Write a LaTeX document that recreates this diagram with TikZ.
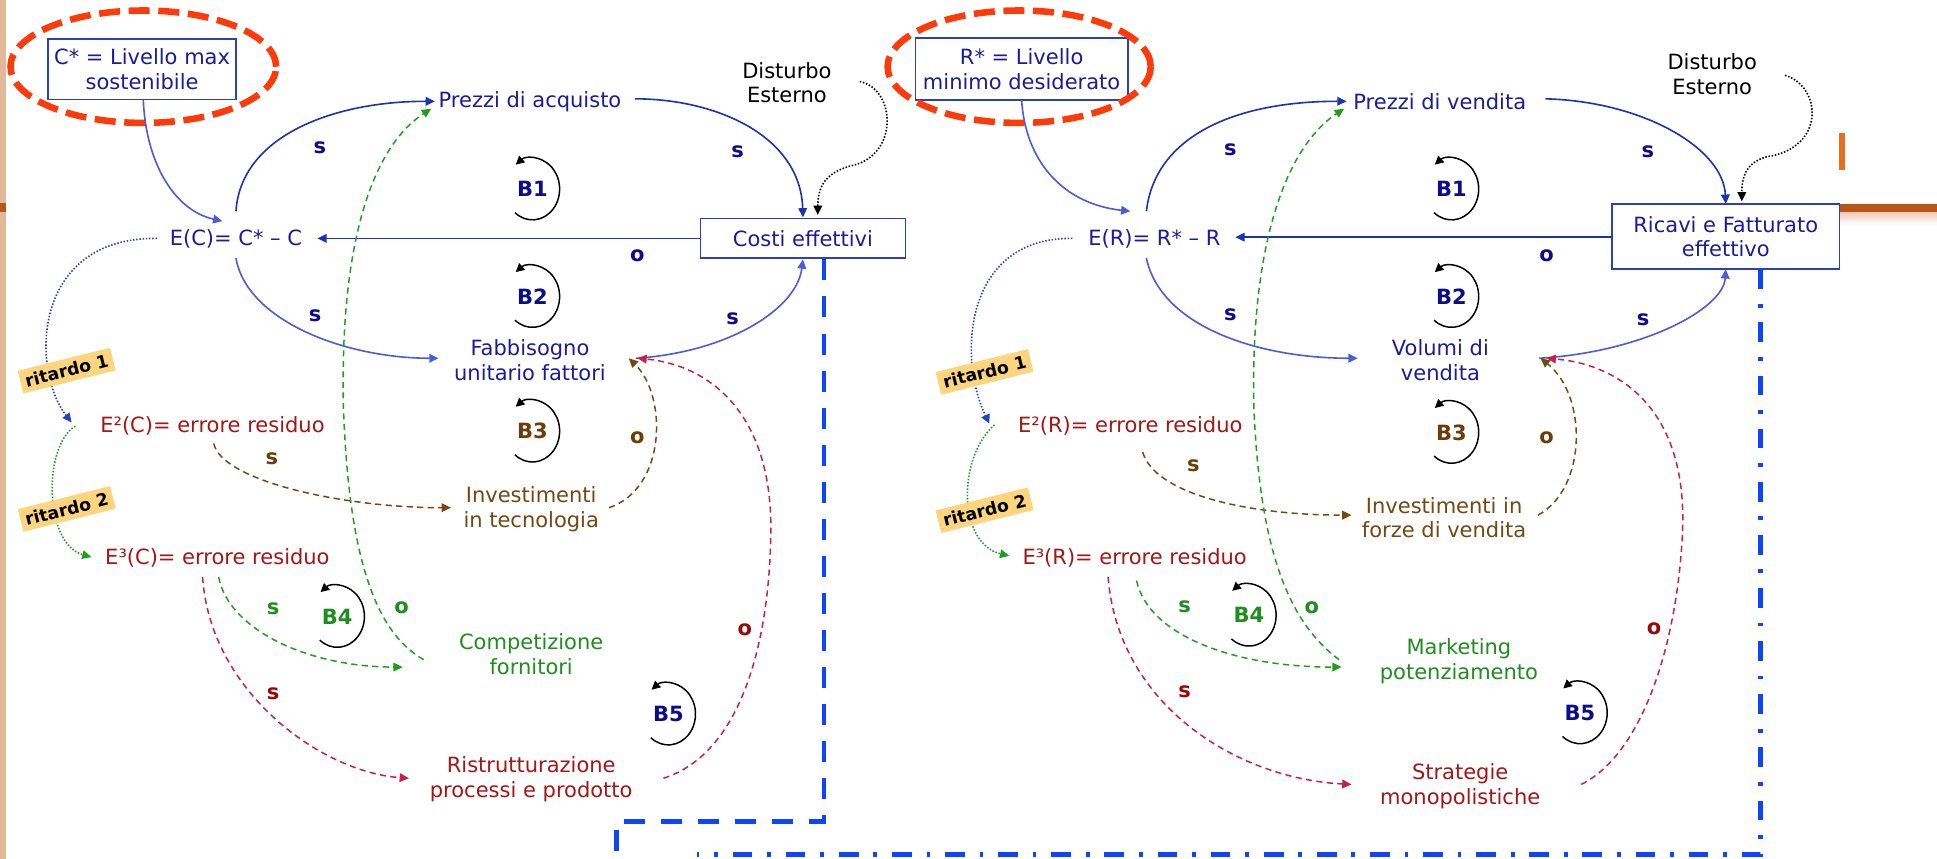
\documentclass[tikz,border=0pt]{standalone}
\usepackage{fontspec}
\setmainfont{DejaVu Sans}
\usetikzlibrary{arrows.meta,shapes.geometric}

\definecolor{navytext}{HTML}{1C1C9A}
\definecolor{navybold}{HTML}{0C0C8C}
\definecolor{boxblue}{HTML}{2D3FC0}
\definecolor{darkarrow}{HTML}{1A32B4}
\definecolor{lightarrow}{HTML}{4C5CD8}
\definecolor{dotblue}{HTML}{2244C4}
\definecolor{errred}{HTML}{A51616}
\definecolor{signred}{HTML}{9A0808}
\definecolor{linkred}{HTML}{C82040}
\definecolor{brownish}{HTML}{754812}
\definecolor{signbrown}{HTML}{6B3D0A}
\definecolor{greenish}{HTML}{1E8E1E}
\definecolor{linkgreen}{HTML}{1E9E1E}
\definecolor{ringred}{HTML}{FF3A0A}
\definecolor{limitblue}{HTML}{0E44FF}
\definecolor{lagfill}{HTML}{FCD57E}
\definecolor{tanstrip}{HTML}{E3B898}
\definecolor{rust}{HTML}{B8561A}
\definecolor{rustlight}{HTML}{EDCDB8}
\definecolor{orangemark}{HTML}{E8701C}

\tikzset{
  txt/.style={font=\fontsize{17}{20}\selectfont, align=center, inner sep=0pt},
  varbox/.style={txt, draw=boxblue, line width=1.3pt},
  ring/.style={ellipse, draw=ringred, line width=5.3pt, dash pattern=on 17pt off 7pt, inner sep=0pt},
  sign/.style={font=\bfseries\fontsize{17}{17}\selectfont, inner sep=0pt},
  loopid/.style={font=\bfseries\fontsize{17}{17}\selectfont, inner sep=0pt},
  lag/.style={fill=lagfill, font=\bfseries\fontsize{14}{14}\selectfont, rotate=14, inner xsep=4pt, inner ysep=4pt},
  tip/.style={-{Triangle[length=7.5pt,width=7pt]}},
  solidlink/.style={tip, line width=1.3pt},
  dashlink/.style={tip, line width=1.2pt, dash pattern=on 5pt off 3.5pt},
  dotlink/.style={tip, line width=1.3pt, dash pattern=on 1.2pt off 1.4pt},
  limitdash/.style={limitblue, line width=4pt, dash pattern=on 17pt off 13pt},
  limitdashdot/.style={limitblue, line width=4pt, dash pattern=on 16pt off 12pt on 3pt off 12pt},
  fbloop/.pic={\draw[line width=1.2pt, -{Triangle[length=7pt,width=7pt]}] (130:22 and 25) arc[start angle=130, end angle=-128, x radius=22, y radius=25];}
}

\begin{document}
\begin{tikzpicture}[x=1pt,y=-1pt]
\useasboundingbox (0,0) rectangle (1568,695);
\fill[white] (0,0) rectangle (1568,695);

% slide border and rule
\fill[tanstrip] (0,0) rectangle (4.5,695);
\fill[rust] (0,164) rectangle (4.5,172);
\fill[rust] (1489,165) rectangle (1568,172);
\shade[top color=rustlight, bottom color=white] (1489,172) rectangle (1568,182);
\fill[orangemark] (1489,108) rectangle (1493.5,138);

% ---------------- cost side ----------------
\node[varbox, minimum width=152pt, minimum height=49pt, text=navytext] (cstar) at (115,56) {C* = Livello max\\sostenibile};
\node[ring, minimum width=215pt, minimum height=91pt] (ringC) at (116,54) {};
\node[txt, text=navytext] (ec) at (191,193) {E(C)= C* – C};
\node[txt, text=navytext] (prezziA) at (429,82) {Prezzi di acquisto};
\node[txt] (dist1) at (637,67) {Disturbo\\Esterno};
\node[varbox, minimum width=166pt, minimum height=32pt, text=navytext] (costi) at (650,193) {Costi effettivi};
\node[txt, text=navytext] (fabb) at (429,291.5) {Fabbisogno\\unitario fattori};
\node[txt, text=errred] (e2c) at (172,345) {E²(C)= errore residuo};
\node[txt, text=errred] (e3c) at (176,452) {E³(C)= errore residuo};
\node[txt, text=brownish] (invT) at (430,412) {Investimenti\\in tecnologia};
\node[txt, text=greenish] (comp) at (430,529.5) {Competizione\\fornitori};
\node[txt, text=errred] (ristr) at (430,631) {Ristrutturazione\\processi e prodotto};

\draw[solidlink, lightarrow] ([shift={(1,25)}]cstar.center) .. controls (118,130) and (140,170) .. ([shift={(-11,-14)}]ec.center);
\draw[solidlink, darkarrow] ([shift={(0,-22)}]ec.center) .. controls (195,110) and (270,82) .. ([shift={(-77,0)}]prezziA.center);
\draw[solidlink, darkarrow] ([shift={(85,-2)}]prezziA.center) .. controls (580,80) and (648,110) .. ([shift={(0,-17)}]costi.center);
\draw[dotlink, black] ([shift={(59,-1)}]dist1.center) .. controls (725,72) and (728,125) .. (690,134) .. controls (665,140) and (662,155) .. ([shift={(12,-19)}]costi.center);
\draw[solidlink, darkarrow] ([shift={(-83,0)}]costi.center) -- ([shift={(66,0)}]ec.center);
\draw[solidlink, lightarrow] ([shift={(0,16)}]ec.center) .. controls (200,260) and (280,290) .. ([shift={(-74,-1.5)}]fabb.center);
\draw[solidlink, lightarrow] ([shift={(86,-1.5)}]fabb.center) .. controls (590,285) and (645,250) .. ([shift={(0,17)}]costi.center);
\draw[dashlink, brownish] ([shift={(63,-1)}]invT.center) .. controls (540,395) and (540,320) .. ([shift={(80,-1.5)}]fabb.center);
\draw[dashlink, linkred] ([shift={(107,-1)}]ristr.center) .. controls (600,610) and (623,520) .. (624,430) .. controls (625,330) and (570,295) .. ([shift={(87,-1.5)}]fabb.center);
\draw[dashlink, brownish] ([shift={(1,14)}]e2c.center) .. controls (180,390) and (280,411) .. ([shift={(-65,-1)}]invT.center);
\draw[dotlink, dotblue] ([shift={(-64,0)}]ec.center) .. controls (25,192) and (25,300) .. ([shift={(-114,-3)}]e2c.center);
\draw[dotlink, linkgreen] ([shift={(-111,0)}]e2c.center) .. controls (35,360) and (35,440) .. ([shift={(-102,-1)}]e3c.center);
\draw[dashlink, linkgreen] ([shift={(1,15)}]e3c.center) .. controls (185,510) and (250,540) .. ([shift={(-104,10.5)}]comp.center);
\draw[dashlink, linkgreen] ([shift={(-87,4.5)}]comp.center) .. controls (300,510) and (282,440) .. (278,330) .. controls (275,200) and (300,120) .. ([shift={(-80,6)}]prezziA.center);
\draw[dashlink, linkred] ([shift={(-12,15)}]e3c.center) .. controls (170,560) and (260,625) .. ([shift={(-99,-1)}]ristr.center);

\node[lag] (lagC1) at (54,300) {ritardo 1};
\node[lag] (lagC2) at (54,412) {ritardo 2};

\node[sign, text=navybold] (sgC1) at (259,120) {s};
\node[sign, text=navybold] (sgC2) at (597,123) {s};
\node[sign, text=navybold] (sgC3) at (516,207) {o};
\node[sign, text=navybold] (sgC4) at (255,256) {s};
\node[sign, text=navybold] (sgC5) at (593,258) {s};
\node[sign, text=signbrown] (sgC6) at (220,371) {s};
\node[sign, text=signbrown] (sgC7) at (516,354) {o};
\node[sign, text=greenish] (sgC8) at (221,493) {s};
\node[sign, text=greenish] (sgC9) at (325,492) {o};
\node[sign, text=signred] (sgC10) at (221,562) {s};
\node[sign, text=signred] (sgC11) at (603,510) {o};

\node[loopid, text=navybold] (bC1) at (431,153) {B1};
\node[loopid, text=navybold] (bC2) at (431,240) {B2};
\node[loopid, text=signbrown] (bC3) at (431,349) {B3};
\node[loopid, text=greenish] (bC4) at (273,499) {B4};
\node[loopid, text=navybold] (bC5) at (541,578) {B5};
\foreach \b in {bC1,bC2,bC3,bC4,bC5} \pic at (\b) {fbloop};

% ---------------- revenue side ----------------
\node[varbox, minimum width=172pt, minimum height=50pt, text=navytext] (rstar) at (827,56) {R* = Livello\\minimo desiderato};
\node[ring, minimum width=213pt, minimum height=91pt] (ringR) at (825,54) {};
\node[txt, text=navytext] (er) at (934.5,193) {E(R)= R* – R};
\node[txt, text=navytext] (prezziV) at (1165.5,82) {Prezzi di vendita};
\node[txt] (dist2) at (1386,60) {Disturbo\\Esterno};
\node[varbox, minimum width=184pt, minimum height=53pt, text=navytext] (ricavi) at (1397,191.5) {Ricavi e Fatturato\\effettivo};
\node[txt, text=navytext] (volumi) at (1166,291.5) {Volumi di\\vendita};
\node[txt, text=errred] (e2r) at (915,345) {E²(R)= errore residuo};
\node[txt, text=errred] (e3r) at (918.5,452) {E³(R)= errore residuo};
\node[txt, text=brownish] (invF) at (1169,419) {Investimenti in\\forze di vendita};
\node[txt, text=greenish] (mark) at (1181,535) {Marketing\\potenziamento};
\node[txt, text=errred] (strat) at (1182,636.5) {Strategie\\monopolistiche};

\draw[solidlink, lightarrow] ([shift={(0,25)}]rstar.center) .. controls (830,130) and (860,165) .. ([shift={(-19.5,-22)}]er.center);
\draw[solidlink, darkarrow] ([shift={(-6.5,-22)}]er.center) .. controls (935,110) and (1000,82) .. ([shift={(-75.5,0)}]prezziV.center);
\draw[solidlink, darkarrow] ([shift={(85.5,-2)}]prezziV.center) .. controls (1330,82) and (1395,120) .. ([shift={(0,-26.5)}]ricavi.center);
\draw[dotlink, black] ([shift={(59,1)}]dist2.center) .. controls (1475,70) and (1478,120) .. (1430,127) .. controls (1412,132) and (1410,145) .. ([shift={(13,-28.5)}]ricavi.center);
\draw[solidlink, darkarrow] ([shift={(-92,0.5)}]ricavi.center) -- ([shift={(65.5,-1)}]er.center);
\draw[solidlink, lightarrow] ([shift={(-6.5,16)}]er.center) .. controls (940,265) and (1020,290) .. ([shift={(-67,-1.5)}]volumi.center);
\draw[solidlink, lightarrow] ([shift={(80,-1.5)}]volumi.center) .. controls (1330,285) and (1395,250) .. ([shift={(0,26.5)}]ricavi.center);
\draw[dashlink, brownish] ([shift={(76,-2)}]invF.center) .. controls (1285,395) and (1285,320) .. ([shift={(81,-1.5)}]volumi.center);
\draw[dashlink, linkred] ([shift={(98,-1.5)}]strat.center) .. controls (1330,610) and (1358,520) .. (1362,430) .. controls (1366,330) and (1310,295) .. ([shift={(86,-1.5)}]volumi.center);
\draw[dashlink, brownish] ([shift={(10,21)}]e2r.center) .. controls (935,400) and (1010,417) .. ([shift={(-75,-2)}]invF.center);
\draw[dotlink, dotblue] ([shift={(-66.5,0)}]er.center) .. controls (780,192) and (775,290) .. ([shift={(-114,-2)}]e2r.center);
\draw[dotlink, linkgreen] ([shift={(-110,-1)}]e2r.center) .. controls (775,370) and (775,440) .. ([shift={(-101.5,-2)}]e3r.center);
\draw[dashlink, linkgreen] ([shift={(1.5,18)}]e3r.center) .. controls (930,515) and (1000,540) .. ([shift={(-95,5)}]mark.center);
\draw[dashlink, linkgreen] ([shift={(-97,-1)}]mark.center) .. controls (1045,505) and (1020,450) .. (1015,330) .. controls (1012,200) and (1040,120) .. ([shift={(-77.5,6)}]prezziV.center);
\draw[dashlink, linkred] ([shift={(-21.5,15)}]e3r.center) .. controls (905,570) and (1000,630) .. ([shift={(-88,-1.5)}]strat.center);

\node[lag] (lagR1) at (797,301) {ritardo 1};
\node[lag] (lagR2) at (797,413) {ritardo 2};

\node[sign, text=navybold] (sgR1) at (996,121) {s};
\node[sign, text=navybold] (sgR2) at (1334,123) {s};
\node[sign, text=navybold] (sgR3) at (1252,207) {o};
\node[sign, text=navybold] (sgR4) at (996,255) {s};
\node[sign, text=navybold] (sgR5) at (1330,259) {s};
\node[sign, text=signbrown] (sgR6) at (966,377) {s};
\node[sign, text=signbrown] (sgR7) at (1252,354) {o};
\node[sign, text=greenish] (sgR8) at (959,491) {s};
\node[sign, text=greenish] (sgR9) at (1062,492) {o};
\node[sign, text=signred] (sgR10) at (959,560) {s};
\node[sign, text=signred] (sgR11) at (1339,509) {o};

\node[loopid, text=navybold] (bR1) at (1175,153) {B1};
\node[loopid, text=navybold] (bR2) at (1175,240) {B2};
\node[loopid, text=signbrown] (bR3) at (1175,350) {B3};
\node[loopid, text=greenish] (bR4) at (1011,498) {B4};
\node[loopid, text=navybold] (bR5) at (1279,577) {B5};
\foreach \b in {bR1,bR2,bR3,bR4,bR5} \pic at (\b) {fbloop};

% ---------------- boundaries ----------------
\draw[limitdash] ([shift={(17,17)}]costi.center) -- ++(0,455) -- ++(-168,0) -- ++(0,40);
\draw[limitdashdot] ([shift={(28,26.5)}]ricavi.center) -- ++(0,474) -- ++(-861,0);
\end{tikzpicture}
\end{document}
